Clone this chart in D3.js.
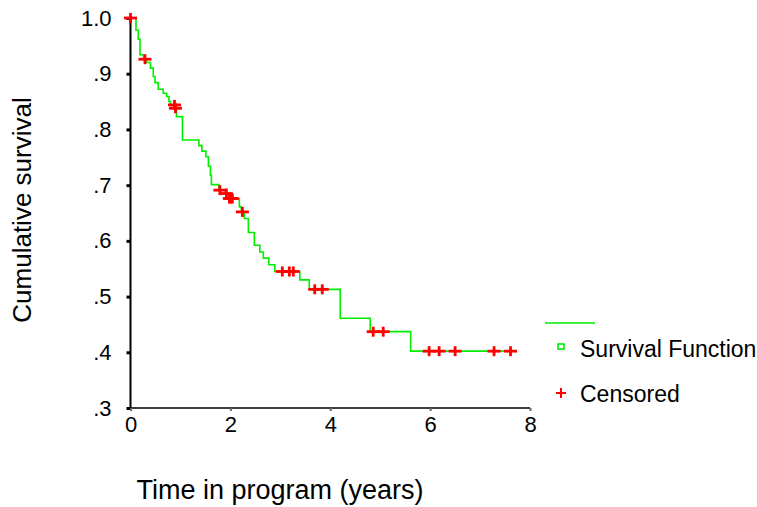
<!DOCTYPE html>
<html>
<head>
<meta charset="utf-8">
<script src="https://cdn.jsdelivr.net/npm/d3@7"></script>
<style>
  body { margin: 0; background: #fff; }
  text { font-family: "Liberation Sans", Arial, sans-serif; fill: #000; }
</style>
</head>
<body>
<div id="chart"></div>
<script>
// step function: time of each drop and survival after it
var stepTimes = [0, 0.11, 0.156, 0.19, 0.26, 0.32, 0.40, 0.456, 0.49, 0.556, 0.656, 0.724, 0.77, 0.80, 0.89, 0.92,
                 1.04, 1.37, 1.43, 1.51, 1.56, 1.60, 1.62, 1.77, 1.90, 1.96, 2.18, 2.22, 2.28, 2.36, 2.48, 2.59,
                 2.66, 2.77, 2.89, 3.39, 3.58, 4.20, 4.80, 5.61];
var stepSurv = [1.0, 0.978, 0.962, 0.934, 0.926, 0.920, 0.910, 0.895, 0.884, 0.872, 0.865, 0.859, 0.850, 0.844, 0.838, 0.823,
                0.781, 0.771, 0.761, 0.751, 0.734, 0.718, 0.701, 0.691, 0.685, 0.676, 0.661, 0.652, 0.640, 0.615, 0.592, 0.580,
                0.569, 0.557, 0.545, 0.530, 0.513, 0.461, 0.437, 0.402];
var lastTime = 7.72;
var censorTimes = [0, 0.29, 0.88, 0.90, 1.79, 1.92, 1.98, 2.01, 2.04, 2.24, 3.04, 3.18, 3.26, 3.69, 3.84,
                   4.86, 5.06, 5.98, 6.18, 6.50, 7.28, 7.61];
var xTicks = [0, 2, 4, 6, 8];
var yTicks = [0.3, 0.4, 0.5, 0.6, 0.7, 0.8, 0.9, 1.0];

var w = 757, h = 507;

var xScale = d3.scaleLinear().domain([0, 8]).range([130.5, 530]);
var yScale = d3.scaleLinear().domain([0.3, 1.0]).range([408, 18]);

var svg = d3.select("#chart").append("svg")
    .attr("width", w)
    .attr("height", h);

// survival at time t (right-continuous step)
function survAt(t) {
    var s = stepSurv[0];
    for (var i = 0; i < stepTimes.length; i++) {
        if (stepTimes[i] <= t) s = stepSurv[i];
    }
    return s;
}

// axes
var yAxis = svg.append("g")
    .attr("transform", "translate(" + xScale(0) + ",0)")
    .call(d3.axisLeft(yScale).tickValues(yTicks).tickSize(4).tickPadding(15)
        .tickFormat(function(d){ return d === 1 ? "1.0" : d3.format(".1f")(d).replace(/^0/, ""); }));
yAxis.select(".domain").attr("stroke-width", 2).attr("d", "M0,16V408");
yAxis.selectAll(".tick line").attr("stroke-width", 3);
yAxis.selectAll("text").style("font-size", "22px");

var xAxis = svg.append("g")
    .attr("transform", "translate(0," + yScale(0.3) + ")")
    .call(d3.axisBottom(xScale).tickValues(xTicks).tickSize(3).tickPadding(5).tickFormat(d3.format("d")));
xAxis.select(".domain").attr("stroke-width", 1.5).attr("d", "M130,0H530");
xAxis.selectAll(".tick line").attr("stroke", "#666").attr("stroke-width", 2);
xAxis.selectAll("text").style("font-size", "22px");

// survival curve
var pts = stepTimes.map(function(t, i){ return [t, stepSurv[i]]; });
pts.push([lastTime, stepSurv[stepSurv.length - 1]]);
var line = d3.line()
    .x(function(d){ return xScale(d[0]); })
    .y(function(d){ return yScale(d[1]); })
    .curve(d3.curveStepAfter);
svg.append("path")
    .datum(pts)
    .attr("d", line)
    .attr("fill", "none")
    .attr("stroke", "#00ee00")
    .attr("stroke-width", 1.6);

// censored marks
function plus(g, cx, cy, hw, hh, sw) {
    g.append("line").attr("x1", cx - hw).attr("x2", cx + hw).attr("y1", cy).attr("y2", cy)
        .attr("stroke", "#ff0000").attr("stroke-width", sw);
    g.append("line").attr("x1", cx).attr("x2", cx).attr("y1", cy - hh).attr("y2", cy + hh)
        .attr("stroke", "#ff0000").attr("stroke-width", sw);
}
var cens = svg.append("g");
censorTimes.forEach(function(t){
    plus(cens, xScale(t), yScale(survAt(t)), 6.5, 5, 2.8);
});

// titles
svg.append("text")
    .attr("transform", "translate(31,210) rotate(-90)")
    .attr("text-anchor", "middle")
    .style("font-size", "26px")
    .text("Cumulative survival");
svg.append("text")
    .attr("x", 280).attr("y", 499)
    .attr("text-anchor", "middle")
    .style("font-size", "27px")
    .text("Time in program (years)");

// legend
var lg = svg.append("g");
lg.append("line").attr("x1", 545).attr("x2", 595).attr("y1", 323).attr("y2", 323)
    .attr("stroke", "#00ee00").attr("stroke-width", 1.6);
lg.append("rect").attr("x", 558).attr("y", 344).attr("width", 6).attr("height", 5)
    .attr("fill", "none").attr("stroke", "#00ee00").attr("stroke-width", 1.6);
lg.append("text").attr("x", 580).attr("y", 357).style("font-size", "23px").text("Survival Function");
plus(lg, 561, 393, 5, 5, 2);
lg.append("text").attr("x", 580).attr("y", 402).style("font-size", "23px").text("Censored");
</script>
</body>
</html>
